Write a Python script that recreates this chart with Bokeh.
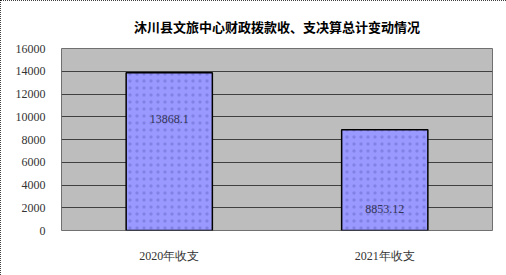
from bokeh.plotting import figure
from bokeh.models import ColumnDataSource, FixedTicker, Range1d
from bokeh.core.properties import value
from bokeh.embed import file_html
from bokeh.resources import INLINE

categories = ["2020年收支", "2021年收支"]
values = [13868.1, 8853.12]
labels = ["13868.1", "8853.12"]
y_ticks = [0, 2000, 4000, 6000, 8000, 10000, 12000, 14000, 16000]
title = "沐川县文旅中心财政拨款收、支决算总计变动情况"

label_offsets = [46, 79]  # pixel offset of labels below bar top

src = ColumnDataSource(dict(x=categories, top=values, text=labels, off=label_offsets))

p = figure(width=506, height=275, x_range=categories, y_range=Range1d(0, 16000),
           output_backend="svg", toolbar_location=None,
           min_border_left=61, min_border_right=14, min_border_bottom=45, min_border_top=48)

p.styles = {"outline": "1px dotted #000000", "outline-offset": "-1px"}

p.title.text = title
p.title.align = "center"
p.title.text_font = "Noto Sans CJK SC"
p.title.text_font_size = "13px"
p.title.text_font_style = "bold"
p.title.text_color = "#000000"
p.title.offset = 0
p.title.standoff = 26

p.background_fill_color = "#bdbdbd"
p.border_fill_color = "#ffffff"
p.outline_line_color = "#707070"

p.vbar(x="x", top="top", width=0.4, source=src, fill_color="#9999ff",
       line_color="#000000", line_width=1.5,
       hatch_pattern="dot", hatch_color="#6a6acc", hatch_scale=7, hatch_weight=0.3, hatch_alpha=0.5)

p.text(x="x", y="top", text="text", source=src, y_offset="off",
       text_align="center", text_baseline="middle",
       text_font=value("Liberation Serif"), text_font_size="12px", text_color="#333355")

p.yaxis.ticker = FixedTicker(ticks=y_ticks)
p.xgrid.grid_line_color = None
p.ygrid.grid_line_color = "#404040"
p.ygrid.grid_line_width = 1

for ax in (p.xaxis[0], p.yaxis[0]):
    ax.axis_line_color = None
    ax.major_tick_line_color = None
    ax.minor_tick_line_color = None
    ax.major_label_text_font = "Liberation Serif"
    ax.major_label_text_font_size = "12px"
    ax.major_label_text_color = "#333333"
p.yaxis.major_label_standoff = 10
p.xaxis.major_label_standoff = 12

open("out.html", "w").write(file_html(p, INLINE))
